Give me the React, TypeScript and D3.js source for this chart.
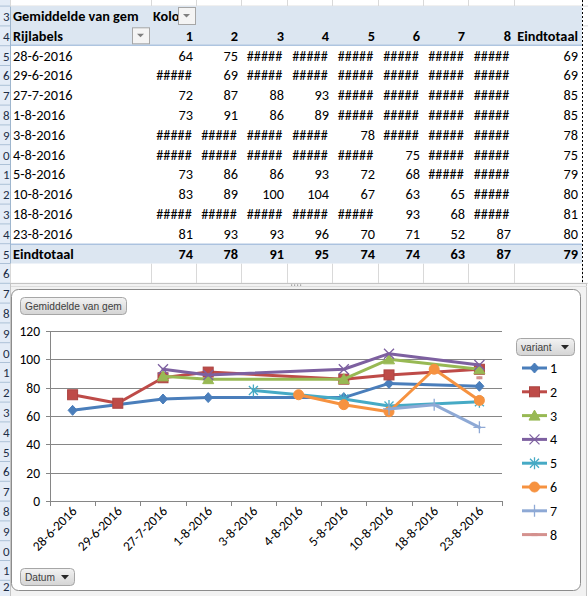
import * as d3 from 'd3';

const dates = ['28-6-2016', '29-6-2016', '27-7-2016', '1-8-2016', '3-8-2016', '4-8-2016', '5-8-2016', '10-8-2016', '18-8-2016', '23-8-2016'];
const variants = ['1', '2', '3', '4', '5', '6', '7', '8'];
const v1 = [64, null, 72, 73, null, null, 73, 83, null, 81];
const v2 = [75, 69, 87, 91, null, null, 86, 89, null, 93];
const v3 = [null, null, 88, 86, null, null, 86, 100, null, 93];
const v4 = [null, null, 93, 89, null, null, 93, 104, null, 96];
const v5 = [null, null, null, null, 78, null, 72, 67, null, 70];
const v6 = [null, null, null, null, null, 75, 68, 63, 93, 71];
const v7 = [null, null, null, null, null, null, null, 65, 68, 52];
const v8 = [null, null, null, null, null, null, null, null, null, 87];
const rowTotals = [69, 69, 85, 85, 78, 75, 79, 80, 81, 80];
const colTotals = [74, 78, 91, 95, 74, 74, 63, 87];
const grandTotal = 79;
const yTicks = [0, 20, 40, 60, 80, 100, 120];

const series: (number | null)[][] = [v1, v2, v3, v4, v5, v6, v7, v8];
const colors = ['#4A7EBB', '#BE4B48', '#98B954', '#7D60A0', '#46AAC5', '#F69240', '#8EA9D5', '#D4918E'];

const FONT = 'Carlito, Calibri, Lato, sans-serif';
const BTN_FONT = "'Liberation Sans', Arial, sans-serif";
const FS = 14.3;
const colEdges = [10, 151, 196, 241, 287, 332, 378, 423, 468, 514, 582];
const ROW_H = 19.8;
const rowC = (i: number) => 16 + i * ROW_H; // i = 0 header, 1 Rijlabels, 2.. data
const rowNum = (n: number) => rowC(n - 3);

function Marker({ k, x, y }: { k: number; x: number; y: number }) {
  const c = colors[k];
  switch (k) {
    case 0:
      return <path d={`M${x},${y - 5}L${x + 4.5},${y}L${x},${y + 5}L${x - 4.5},${y}Z`} fill={c} stroke={c} />;
    case 1:
      return <rect x={x - 5} y={y - 5} width={10} height={10} fill={c} stroke={d3.color(c)!.darker(0.3).toString()} />;
    case 2:
      return <path d={`M${x},${y - 5.5}L${x + 5.5},${y + 4.5}L${x - 5.5},${y + 4.5}Z`} fill={c} stroke={c} />;
    case 3:
      return <path d={`M${x - 5},${y - 5}L${x + 5},${y + 5}M${x - 5},${y + 5}L${x + 5},${y - 5}`} stroke={c} strokeWidth={1.3} />;
    case 4:
      return <path d={`M${x - 4.5},${y - 4.5}L${x + 4.5},${y + 4.5}M${x - 4.5},${y + 4.5}L${x + 4.5},${y - 4.5}M${x},${y - 6}L${x},${y + 6}`} stroke={c} strokeWidth={1.3} />;
    case 5:
      return <circle cx={x} cy={y} r={5} fill={c} stroke={c} />;
    case 6:
      return <path d={`M${x - 6},${y}L${x + 6},${y}M${x},${y - 6}L${x},${y + 6}`} stroke={c} strokeWidth={1.3} />;
    default:
      return <rect x={x - 3} y={y - 1.5} width={6} height={3} fill={c} />;
  }
}

function DropBtn({ x, y, w, h }: { x: number; y: number; w: number; h: number }) {
  const cx = x + w / 2;
  const cy = y + h / 2;
  return (
    <g>
      <rect x={x + 0.5} y={y + 0.5} width={w} height={h} fill="#f4f4f4" stroke="#a6a6a6" />
      <path d={`M${cx - 3.5},${cy - 1.5}L${cx + 3.5},${cy - 1.5}L${cx},${cy + 2}Z`} fill="#7f7f7f" />
    </g>
  );
}

function FieldBtn({ x, y, w, label, arrow }: { x: number; y: number; w: number; label: string; arrow: boolean }) {
  return (
    <g>
      <rect x={x + 0.5} y={y + 0.5} width={w} height={17} rx={4} fill="url(#btnGrad)" stroke="#a6a6a6" />
      <text x={x + 5} y={y + 13} fill="#404040" fontFamily={BTN_FONT} fontSize={10.2}>
        {label}
      </text>
      {arrow && <path d={`M${x + w - 13},${y + 7}L${x + w - 5},${y + 7}L${x + w - 9},${y + 11.5}Z`} fill="#262626" />}
    </g>
  );
}

export default function App() {
  const x = d3.scaleBand<string>().domain(dates).range([50, 502]);
  const y = d3.scaleLinear().domain([0, 120]).range([501, 331]);
  const cx = (d: string) => x(d)! + x.bandwidth() / 2;
  const legendY = (i: number) => 368 + i * 23.8;

  const line = d3
    .line<{ d: string; v: number }>()
    .x((p) => cx(p.d))
    .y((p) => y(p.v));

  const rowNums = d3.range(3, 33);

  return (
    <div style={{ position: 'fixed', left: 0, top: 0 }}>
      <svg width={588} height={596} style={{ display: 'block', background: '#fff' }} fontFamily={FONT}>
        <defs>
          <linearGradient id="btnGrad" x1="0" y1="0" x2="0" y2="1">
            <stop offset="0" stopColor="#f3f3f3" />
            <stop offset="1" stopColor="#d4d4d4" />
          </linearGradient>
        </defs>

        {/* row-number column: only the last digit shows in the narrow strip */}
        <rect x={0} y={0} width={10} height={596} fill="#e4ecf7" />
        {[2, ...rowNums].map((n) => (
          <line key={n} x1={0} x2={10} y1={rowNum(n) + ROW_H / 2} y2={rowNum(n) + ROW_H / 2} stroke="#9eb6ce" strokeWidth={0.8} />
        ))}
        {rowNums.map((n) => (
          <text key={n} x={9.5} y={Math.min(rowNum(n) + 5, 591)} textAnchor="end" fontSize={13} fill="#1f2f47">
            {n % 10}
          </text>
        ))}
        <line x1={10.5} x2={10.5} y1={0} y2={596} stroke="#9eb6ce" />

        {/* plain grid rows: top partial row and row 16 */}
        {[rowNum(2), rowNum(16)].map((c, i) => (
          <g key={i}>
            {colEdges.map((e, j) => (
              <line key={j} x1={e + 0.5} x2={e + 0.5} y1={c - ROW_H / 2} y2={c + ROW_H / 2} stroke="#d9d9d9" />
            ))}
            <line x1={10} x2={588} y1={c + ROW_H / 2} y2={c + ROW_H / 2} stroke="#d9d9d9" />
          </g>
        ))}
        <line x1={582} x2={588} y1={rowNum(3) + ROW_H / 2} y2={rowNum(3) + ROW_H / 2} stroke="#d9d9d9" />

        {/* header band */}
        <rect x={11} y={rowC(0) - ROW_H / 2} width={571} height={ROW_H * 2} fill="#dce6f1" />
        <line x1={11} x2={582} y1={rowC(1) + ROW_H / 2 - 0.5} y2={rowC(1) + ROW_H / 2 - 0.5} stroke="#95b3d7" />
        <text x={13} y={rowC(0) + 5} fontSize={FS} fontWeight={700} fill="#000">
          Gemiddelde van gem
        </text>
        <text x={153} y={rowC(0) + 5} fontSize={FS} fontWeight={700} fill="#000">
          Kolo
        </text>
        <DropBtn x={178} y={rowC(0) - 9} w={17} h={17} />
        <text x={13} y={rowC(1) + 5} fontSize={FS} fontWeight={700} fill="#000">
          Rijlabels
        </text>
        <DropBtn x={132} y={rowC(1) - 8.5} w={17} h={16} />
        {variants.map((v, j) => (
          <text key={v} x={colEdges[j + 2] - 3} y={rowC(1) + 5} textAnchor="end" fontSize={FS} fontWeight={700}>
            {v}
          </text>
        ))}
        <text x={578} y={rowC(1) + 5} textAnchor="end" fontSize={FS} fontWeight={700}>
          Eindtotaal
        </text>

        {/* data rows */}
        {dates.map((d, i) => (
          <g key={d}>
            <text x={13} y={rowC(i + 2) + 5} fontSize={FS}>
              {d}
            </text>
            {series.map((s, j) =>
              s[i] == null ? (
                <text key={j} x={(colEdges[j + 1] + colEdges[j + 2]) / 2 + 0.5} y={rowC(i + 2) + 5} textAnchor="middle" fontSize={FS}>
                  #####
                </text>
              ) : (
                <text key={j} x={colEdges[j + 2] - 3} y={rowC(i + 2) + 5} textAnchor="end" fontSize={FS}>
                  {s[i]}
                </text>
              )
            )}
            <text x={578} y={rowC(i + 2) + 5} textAnchor="end" fontSize={FS}>
              {rowTotals[i]}
            </text>
          </g>
        ))}

        {/* totals row */}
        <rect x={11} y={rowC(12) - ROW_H / 2} width={571} height={ROW_H} fill="#dce6f1" />
        <line x1={11} x2={582} y1={rowC(12) - ROW_H / 2 + 0.5} y2={rowC(12) - ROW_H / 2 + 0.5} stroke="#95b3d7" />
        <text x={13} y={rowC(12) + 5} fontSize={FS} fontWeight={700}>
          Eindtotaal
        </text>
        {colTotals.map((t, j) => (
          <text key={j} x={colEdges[j + 2] - 3} y={rowC(12) + 5} textAnchor="end" fontSize={FS} fontWeight={700}>
            {t}
          </text>
        ))}
        <text x={578} y={rowC(12) + 5} textAnchor="end" fontSize={FS} fontWeight={700}>
          {grandTotal}
        </text>

        {/* page break */}
        <line x1={582.5} x2={582.5} y1={0} y2={283} stroke="#000" strokeDasharray="2,2" />

        {/* chart selection frame */}
        <rect x={10.5} y={283.5} width={576} height={320} fill="#f2f2f2" stroke="#c4c4c4" />
        <line x1={11} x2={587} y1={286.5} y2={286.5} stroke="#dcdcdc" />
        {d3.range(4).map((k) => (
          <rect key={k} x={291 + k * 3} y={284.5} width={1.2} height={1.2} fill="#8a8a8a" />
        ))}
        <rect x={11.5} y={289.5} width={569} height={301} rx={7} fill="#fff" stroke="#8c8c8c" />

        <FieldBtn x={20} y={297} w={106} label="Gemiddelde van gem" arrow={false} />
        <FieldBtn x={20} y={568} w={54} label="Datum" arrow={true} />
        <FieldBtn x={516} y={338} w={58} label="variant" arrow={true} />

        {/* grid + axes */}
        {yTicks.map((t) => (
          <g key={t}>
            <line x1={46} x2={502} y1={Math.round(y(t)) + 0.5} y2={Math.round(y(t)) + 0.5} stroke="#868686" />
            <text x={40} y={y(t) + 5} textAnchor="end" fontSize={13.5} fill="#000">
              {t}
            </text>
          </g>
        ))}
        <line x1={50.5} x2={50.5} y1={331} y2={501} stroke="#868686" />
        {d3.range(dates.length + 1).map((k) => {
          const xx = Math.round(50 + k * x.step()) + 0.5;
          return <line key={k} x1={xx} x2={xx} y1={501} y2={506} stroke="#868686" />;
        })}
        {dates.map((d) => (
          <text key={d} transform={`translate(${cx(d) + 5},${512}) rotate(-45)`} textAnchor="end" fontSize={13.5} fill="#000">
            {d}
          </text>
        ))}

        {/* series */}
        {series.map((s, k) => {
          const pts = dates.map((d, i) => ({ d, v: s[i] })).filter((p) => p.v != null) as { d: string; v: number }[];
          return (
            <g key={k}>
              <path d={line(pts)!} fill="none" stroke={colors[k]} strokeWidth={3} strokeLinejoin="round" strokeLinecap="round" />
              {pts.map((p) => (
                <Marker key={p.d} k={k} x={cx(p.d)} y={y(p.v)} />
              ))}
            </g>
          );
        })}

        {/* legend */}
        {variants.map((v, i) => (
          <g key={v}>
            <line x1={522} x2={547} y1={legendY(i)} y2={legendY(i)} stroke={colors[i]} strokeWidth={3} />
            <Marker k={i} x={534.5} y={legendY(i)} />
            <text x={550} y={legendY(i) + 5} fontSize={14} fill="#000">
              {v}
            </text>
          </g>
        ))}
      </svg>
    </div>
  );
}
